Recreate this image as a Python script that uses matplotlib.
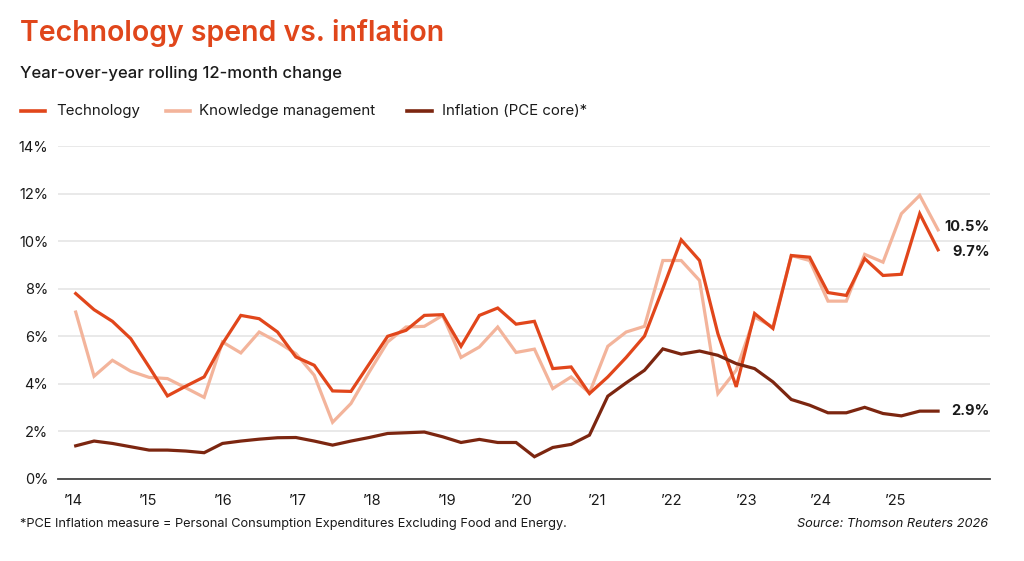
import matplotlib
matplotlib.use("Agg")
import matplotlib.pyplot as plt
from matplotlib.lines import Line2D
from matplotlib.transforms import blended_transform_factory

plt.rcParams['font.family'] = ['Inter', 'DejaVu Sans']

# ---------------- data (quarterly, % YoY rolling 12-month change) ----------------
technology = [7.79, 7.11, 6.62, 5.89, 4.70, 3.48, 3.89, 4.28, 5.68, 6.87,
              6.73, 6.17, 5.12, 4.77, 3.69, 3.67, 4.83, 5.99, 6.24, 6.87,
              6.90, 5.57, 6.87, 7.18, 6.50, 6.62, 4.63, 4.70, 3.58, 4.28,
              5.10, 6.00, 8.00, 10.05, 9.18, 6.10, 3.86, 6.95, 6.32, 9.39,
              9.32, 7.83, 7.71, 9.26, 8.55, 8.60, 11.15, 9.63]
knowledge_mgmt = [7.01, 4.31, 4.98, 4.52, 4.26, 4.21, 3.82, 3.42, 5.75, 5.29,
                  6.17, 5.75, 5.26, 4.35, 2.37, 3.16, 4.49, 5.75, 6.38, 6.41,
                  6.87, 5.10, 5.54, 6.38, 5.31, 5.45, 3.79, 4.28, 3.61, 5.57,
                  6.17, 6.41, 9.18, 9.18, 8.34, 3.58, 4.56, 6.80, 6.38, 9.39,
                  9.18, 7.47, 7.47, 9.44, 9.11, 11.15, 11.92, 10.47]
inflation = [1.38, 1.58, 1.48, 1.34, 1.20, 1.20, 1.16, 1.09, 1.48, 1.58,
             1.66, 1.72, 1.73, 1.58, 1.41, 1.58, 1.73, 1.90, 1.93, 1.96,
             1.76, 1.52, 1.65, 1.52, 1.52, 0.92, 1.31, 1.44, 1.83, 3.47,
             4.03, 4.56, 5.46, 5.24, 5.37, 5.19, 4.84, 4.63, 4.07, 3.33,
             3.09, 2.77, 2.77, 3.00, 2.74, 2.64, 2.84, 2.84]
year_labels = ["\u201914", "\u201915", "\u201916", "\u201917", "\u201918", "\u201919",
               "\u201920", "\u201921", "\u201922", "\u201923", "\u201924", "\u201925"]
end_labels = ["9.7%", "10.5%", "2.9%"]
series_names = ["Technology", "Knowledge management", "Inflation (PCE core)*"]

# ---------------- style ----------------
C_TECH = "#E1461B"
C_KM = "#F3B49B"
C_INF = "#7C2610"
C_TITLE = "#E0461B"
C_TEXT = "#1a1a1a"

fig = plt.figure(figsize=(10.24, 5.61), dpi=100)
fig.patch.set_facecolor("white")
ax = fig.add_axes([58/1024, 1-478.6/561, (990-58)/1024, (478.6-146)/561])

x = list(range(len(technology)))
lw = 2.3
ax.plot(x, knowledge_mgmt, color=C_KM, lw=lw, solid_joinstyle="miter", zorder=3)
ax.plot(x, technology, color=C_TECH, lw=lw, solid_joinstyle="miter", zorder=4)
ax.plot(x, inflation, color=C_INF, lw=lw, solid_joinstyle="miter", zorder=5)

ax.set_ylim(0, 14)
ax.set_xlim(-0.965, 49.83)
ax.set_yticks(range(0, 15, 2))
ax.set_yticklabels([f"{v}%" for v in range(0, 15, 2)])
per_year = 4.076
ax.set_xticks([-0.13 + per_year*k for k in range(len(year_labels))])
ax.set_xticklabels(year_labels)
ax.tick_params(axis="both", length=0, labelsize=10.5, colors=C_TEXT)
ax.tick_params(axis="x", pad=11)
ax.tick_params(axis="y", pad=7)
ax.grid(axis="y", color="#e3e3e3", lw=1.1)
ax.set_axisbelow(True)
for s in ["top", "right", "left"]:
    ax.spines[s].set_visible(False)
ax.spines["bottom"].set_color("#444444")
ax.spines["bottom"].set_linewidth(1.3)

# end labels, right-aligned at the chart's right edge, at the series' last value
trans = blended_transform_factory(fig.transFigure, ax.transData)
last = len(technology) - 1
for vals, lab, dy in [(technology, end_labels[0], -0.1), (knowledge_mgmt, end_labels[1], 0.1),
                      (inflation, end_labels[2], 0.0)]:
    ax.text(990/1024, vals[last] + dy, lab, transform=trans, ha="right", va="center",
            fontsize=10.5, fontweight="bold", color=C_TEXT, clip_on=False)

# titles
fig.text(20/1024, 1-33/561, "Technology spend vs. inflation", fontsize=20.5,
         fontweight="semibold", color=C_TITLE, va="center", ha="left")
fig.text(20/1024, 1-74/561, "Year-over-year rolling 12-month change", fontsize=12,
         fontweight="medium", color=C_TEXT, va="center", ha="left")

# legend
leg_y = 1-111/561
for (x0, x1, tx), col, name in zip([(21, 45, 56), (166, 190, 199), (407, 432, 442)],
                                   [C_TECH, C_KM, C_INF], series_names):
    fig.add_artist(Line2D([x0/1024, x1/1024], [leg_y, leg_y], color=col, lw=2.6))
    fig.text(tx/1024, leg_y, name, fontsize=10.8, color=C_TEXT, va="center", ha="left")

# footnotes
fig.text(20/1024, 1-524/561,
         "*PCE Inflation measure = Personal Consumption Expenditures Excluding Food and Energy.",
         fontsize=9.2, color=C_TEXT, va="center", ha="left")
fig.text(988/1024, 1-524/561, "Source: Thomson Reuters 2026", fontsize=9.2,
         style="italic", color=C_TEXT, va="center", ha="right")

fig.savefig("out.png", dpi=100, facecolor="white")
